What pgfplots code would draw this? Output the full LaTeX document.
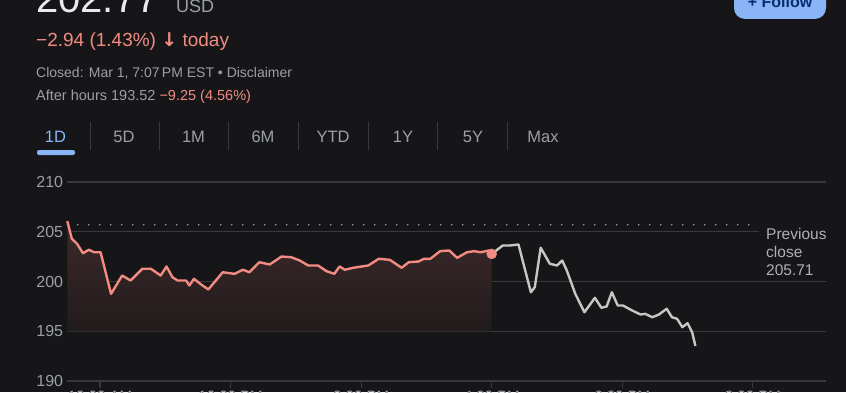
\documentclass[border=0pt]{standalone}
\usepackage{pgfplots}
\pgfplotsset{compat=1.18}
\usepackage{pgfplotstable}
\usepackage{fontspec}
\setmainfont{Liberation Sans}
\newfontfamily\dejavu{DejaVu Sans}
\definecolor{bg}{HTML}{161618}
\definecolor{gridc}{HTML}{38393B}
\definecolor{txtgray}{HTML}{9AA0A6}
\definecolor{lblgray}{HTML}{ADB1B6}
\definecolor{redc}{HTML}{F28B82}
\definecolor{linegray}{HTML}{C4C7C5}
\definecolor{bluec}{HTML}{8AB4F8}
\definecolor{whitec}{HTML}{E8EAED}
\definecolor{navy}{HTML}{062E6F}
\definecolor{fillc}{HTML}{3D292A}
\definecolor{fillb}{HTML}{211B1C}

\pgfplotstableread{
t v
9.50 206.06
9.57 204.29
9.65 203.79
9.74 202.84
9.83 203.19
9.91 202.94
10.01 202.94
10.17 198.76
10.34 200.60
10.47 200.10
10.65 201.28
10.78 201.28
10.93 200.60
11.02 201.51
11.11 200.43
11.19 200.10
11.32 200.10
11.37 199.60
11.44 200.27
11.55 199.70
11.66 199.20
11.88 200.93
12.06 200.77
12.19 201.18
12.29 200.93
12.44 201.94
12.60 201.71
12.78 202.51
12.93 202.44
13.06 202.11
13.19 201.61
13.34 201.61
13.47 201.04
13.59 200.77
13.67 201.51
13.75 201.18
13.88 201.38
14.11 201.61
14.27 202.28
14.44 202.18
14.62 201.38
14.73 201.94
14.88 202.01
14.96 202.28
15.06 202.28
15.21 203.05
15.35 203.12
15.47 202.38
15.62 202.94
15.73 203.05
15.83 202.94
15.96 203.12
16.00 202.77
}\regular

\pgfplotstableread{
t v
16.00 202.77
16.17 203.62
16.28 203.62
16.41 203.72
16.60 198.92
16.66 199.43
16.75 203.39
16.89 201.78
17.00 201.61
17.08 202.11
17.15 201.11
17.28 198.76
17.42 196.91
17.58 198.36
17.68 197.36
17.76 197.49
17.84 198.92
17.93 197.59
18.01 197.59
18.15 197.09
18.28 196.68
18.35 196.75
18.46 196.41
18.56 196.68
18.68 197.26
18.76 196.41
18.84 196.25
18.92 195.41
19.00 195.81
19.07 194.90
19.12 193.52
}\afterhours

\begin{document}
\begin{tikzpicture}[x=1pt,y=1pt]
\useasboundingbox (0,0) rectangle (846,392);
\clip (0,0) rectangle (846,392);
\fill[bg] (0,0) rectangle (846,392);

% header
\node[anchor=base west, inner sep=0pt, text=whitec] at (36,379) {\fontsize{40}{40}\selectfont 202.77};
\node[anchor=base west, inner sep=0pt, text=txtgray] at (176,379) {\fontsize{18}{18}\selectfont USD};
\node[anchor=base west, inner sep=0pt, text=redc] at (36,345) {\fontsize{19}{19}\selectfont −2.94 (1.43\%) {\dejavu\bfseries ↓} today};
\node[anchor=base west, inner sep=0pt, text=txtgray] at (36,315) {\fontsize{14}{14}\selectfont Closed: Mar 1, 7:07\,PM EST • Disclaimer};
\node[anchor=base west, inner sep=0pt, text=txtgray] at (36,292) {\fontsize{14.5}{14.5}\selectfont After hours 193.52 \textcolor{redc}{−9.25 (4.56\%)}};

% follow button
\fill[bluec, rounded corners=11pt] (734,420) rectangle (826,373);
\node[anchor=base, inner sep=0pt, text=navy] at (780,384) {\fontsize{16}{16}\selectfont\bfseries + Follow};

% tabs
\foreach \lab/\cx in {5D/124,1M/193.5,6M/263,YTD/333,1Y/403,5Y/473,Max/543}{
  \node[anchor=base, inner sep=0pt, text=txtgray] at (\cx,250) {\fontsize{16.5}{16.5}\selectfont \lab};
}
\node[anchor=base, inner sep=0pt, text=bluec] at (55.5,250) {\fontsize{16.5}{16.5}\selectfont 1D};
\foreach \sx in {90.7,159,228,298,368,437,507}{
  \draw[gridc, line width=1pt] (\sx,270) -- (\sx,242);
}
\fill[bluec, rounded corners=2pt] (37,237) rectangle (75,242);

\begin{axis}[
  at={(67.3pt,11pt)}, anchor=south west,
  width=758.7pt, height=199pt, scale only axis,
  xmin=9.5, xmax=21.12, ymin=190, ymax=210,
  axis x line*=bottom, axis y line*=left,
  axis line style={draw=none},
  ytick={190,195,200,205,210},
  xtick={10,12,14,16,18,20},
  xticklabels={10:00 AM,12:00 PM,2:00 PM,4:00 PM,6:00 PM,8:00 PM},
  ymajorgrids, major grid style={gridc, line width=1.3pt},
  tick align=outside, major tick length=7pt,
  xtick style={draw=gridc, line width=1.2pt},
  ytick style={draw=none},
  /pgf/number format/assume math mode=true,
  yticklabel style={font=\fontsize{16}{16}\selectfont, text=txtgray, anchor=east, inner sep=0pt, xshift=3pt},
  xticklabel style={font=\fontsize{15}{15}\selectfont, text=txtgray, anchor=north, inner sep=0pt, yshift=-3pt},
  clip=false,
]
\addplot[draw=none, top color=fillc, bottom color=fillb] table[x=t,y=v] {\regular} -- (axis cs:16,195) -- (axis cs:9.5,195) -- cycle;
\addplot[txtgray, line width=1.8pt, dash pattern=on 0pt off 11pt, line cap=round] coordinates {(9.66,205.71) (20.05,205.71)};
\addplot[linegray, line width=2.4pt, line join=round] table[x=t,y=v] {\afterhours};
\addplot[redc, line width=2.4pt, line join=round] table[x=t,y=v] {\regular};
\addplot[only marks, mark=*, mark size=5pt, color=redc, mark options={fill=redc, draw=redc}] coordinates {(16.00,202.77)};
\end{axis}

\fill[bg] (759,156) rectangle (846,166);
\node[anchor=base west, inner sep=0pt, text=lblgray] at (766,152.5) {\fontsize{15.5}{15.5}\selectfont Previous};
\node[anchor=base west, inner sep=0pt, text=lblgray] at (766,134.5) {\fontsize{15.5}{15.5}\selectfont close};
\node[anchor=base west, inner sep=0pt, text=lblgray] at (766,116.5) {\fontsize{15.5}{15.5}\selectfont 205.71};
\end{tikzpicture}
\end{document}
